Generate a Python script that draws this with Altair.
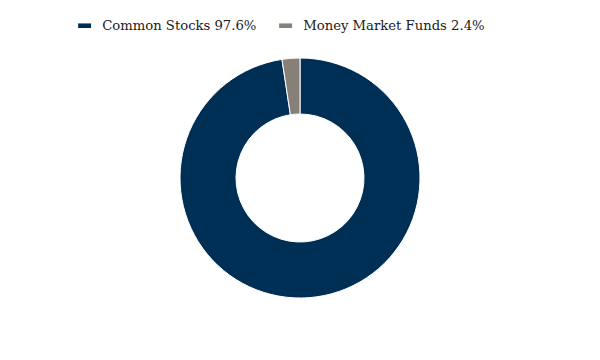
import altair as alt
import pandas as pd

categories = ["Common Stocks 97.6%", "Money Market Funds 2.4%"]
values = [97.6, 2.4]
colors = ["#002f56", "#868079"]

df = pd.DataFrame({"category": categories, "value": values, "order": [0, 1]})

chart = alt.Chart(df).mark_arc(
    innerRadius=64, outerRadius=120, stroke="white", strokeWidth=1
).encode(
    theta=alt.Theta("value:Q", stack=True),
    color=alt.Color(
        "category:N",
        sort=categories,
        scale=alt.Scale(domain=categories, range=colors),
        legend=alt.Legend(
            title=None,
            orient="none",
            direction="horizontal",
            legendX=70,
            legendY=11,
            symbolType="M-1,-0.35H1V0.35H-1Z",
            symbolSize=169,
            symbolStrokeWidth=0,
            labelFont="DejaVu Serif",
            labelFontSize=13.2,
            labelColor="#1a1a1a",
            labelOffset=11,
            labelLimit=0,
            columnPadding=22,
        ),
    ),
    order=alt.Order("order:Q"),
).properties(
    width=584, height=340, padding=0, autosize="none"
).configure_view(stroke=None)

chart.save("out.html", embed_options={"renderer": "svg", "actions": False})
